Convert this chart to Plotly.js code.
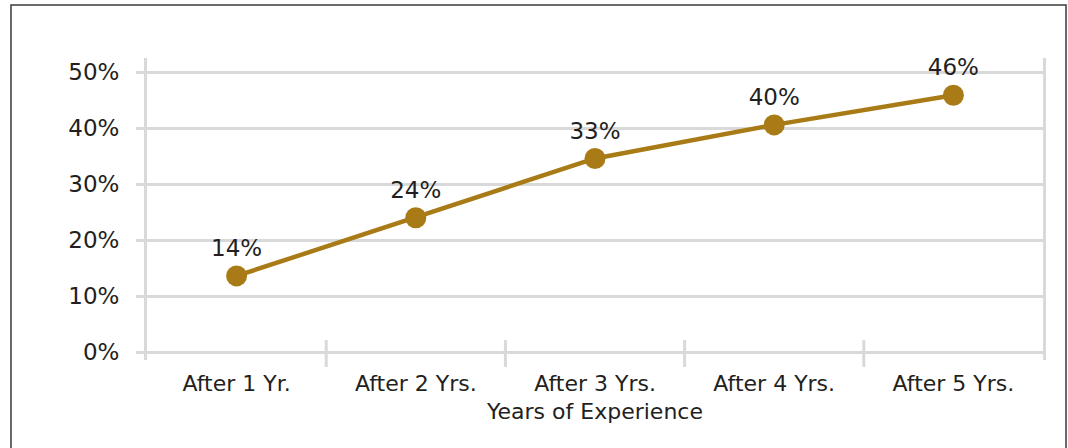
<!DOCTYPE html>
<html>
<head>
<meta charset="utf-8">
<script src="https://cdn.plot.ly/plotly-3.0.1.min.js"></script>
<style>
html,body{margin:0;padding:0;background:#fff;}
#chart{width:1068px;height:448px;}
</style>
</head>
<body>
<div id="chart"></div>
<script>
var categories = ["After 1 Yr.", "After 2 Yrs.", "After 3 Yrs.", "After 4 Yrs.", "After 5 Yrs."];
var shareValues = [13.6, 24.0, 34.6, 40.6, 45.9];
var shareLabels = ["14%", "24%", "33%", "40%", "46%"];
var yTickValues = [0, 10, 20, 30, 40, 50];
var yTickLabels = ["0%", "10%", "20%", "30%", "40%", "50%"];
var xAxisTitle = "Years of Experience";

var gold = "#a97b17";
var grid = "#d9d9d9";
var fontFam = "DejaVu Sans, sans-serif";

var trace = {
  type: "scatter",
  mode: "lines+markers+text",
  x: categories,
  y: shareValues,
  text: shareLabels,
  textposition: "top center",
  textfont: {family: fontFam, size: 23, color: "#231f20"},
  line: {color: gold, width: 4.5},
  marker: {color: gold, size: 21},
  cliponaxis: false,
  hoverinfo: "skip"
};

var shapes = [];
// category boundary tick marks
for (var i = 1; i < categories.length; i++) {
  shapes.push({type: "line", xref: "paper", yref: "paper",
    x0: i / categories.length, x1: i / categories.length,
    y0: 0.066, y1: -0.023,
    line: {color: grid, width: 3}, layer: "below"});
}
// outer frame
shapes.push({type: "rect", xref: "paper", yref: "paper",
  x0: -0.1518, x1: 1.0257, y0: 1.1755, y1: -0.35,
  line: {color: "#3a3a3a", width: 1.5}, layer: "below"});

var layout = {
  width: 1068, height: 448,
  margin: {l: 147, r: 25, t: 58, b: 88, pad: 0},
  paper_bgcolor: "#fff", plot_bgcolor: "#fff",
  showlegend: false,
  font: {family: fontFam, color: "#231f20"},
  xaxis: {
    type: "category",
    range: [-0.5, categories.length - 0.5],
    showgrid: false, zeroline: false, showline: false,
    ticks: "",
    tickfont: {family: fontFam, size: 22, color: "#231f20"},
    ticklabelstandoff: 8,
    title: {text: xAxisTitle, font: {family: fontFam, size: 22, color: "#231f20"}, standoff: 8},
    fixedrange: true
  },
  yaxis: {
    range: [-1.43, 52.56],
    tickvals: yTickValues,
    ticktext: yTickLabels,
    showgrid: true, gridcolor: grid, gridwidth: 3,
    zeroline: false,
    showline: true, linecolor: grid, linewidth: 3, mirror: true,
    ticks: "outside", ticklen: 8, tickwidth: 3, tickcolor: grid,
    tickfont: {family: fontFam, size: 23, color: "#231f20"},
    ticklabelstandoff: 12,
    fixedrange: true
  },
  shapes: shapes
};

Plotly.newPlot("chart", [trace], layout, {displayModeBar: false, staticPlot: true});
</script>
</body>
</html>
